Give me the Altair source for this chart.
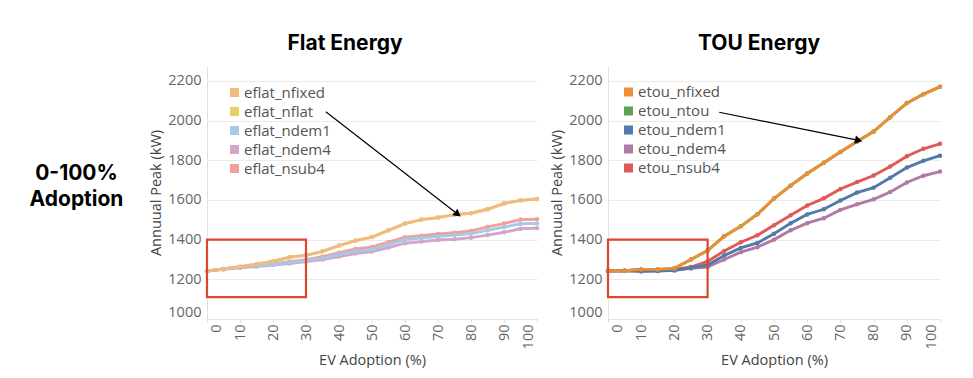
import math
import altair as alt
import pandas as pd

# ---------------- data ----------------
adoption = list(range(0, 101, 5))
x_ticks = list(range(0, 101, 10))
y_ticks = list(range(1000, 2201, 200))

flat_names = ["eflat_nfixed", "eflat_nflat", "eflat_ndem1", "eflat_ndem4", "eflat_nsub4"]
flat_colors = ["#f0bb7f", "#ecce67", "#a6c9e8", "#d2a6c8", "#f09f9b"]
eflat_nfixed = [1242, 1252, 1264, 1276, 1291, 1311, 1321, 1341, 1370, 1395, 1413,
                1447, 1481, 1501, 1511, 1526, 1533, 1553, 1582, 1598, 1605]
eflat_nflat = [1242, 1252, 1264, 1276, 1291, 1311, 1321, 1341, 1370, 1395, 1413,
               1447, 1481, 1501, 1511, 1526, 1533, 1553, 1582, 1598, 1605]
eflat_ndem1 = [1242, 1252, 1262, 1268, 1276, 1285, 1295, 1307, 1325, 1342, 1352,
               1375, 1400, 1408, 1417, 1423, 1430, 1447, 1463, 1480, 1481]
eflat_ndem4 = [1242, 1250, 1258, 1264, 1272, 1280, 1290, 1300, 1315, 1330, 1340,
               1360, 1382, 1390, 1398, 1402, 1410, 1423, 1437, 1455, 1458]
eflat_nsub4 = [1242, 1252, 1262, 1269, 1277, 1289, 1299, 1314, 1334, 1353, 1363,
               1387, 1412, 1420, 1429, 1435, 1444, 1464, 1481, 1501, 1503]

tou_names = ["etou_nfixed", "etou_ntou", "etou_ndem1", "etou_ndem4", "etou_nsub4"]
tou_colors = ["#ec9035", "#5ea252", "#5279a8", "#b07ba3", "#df5958"]
etou_nfixed = [1243, 1243, 1250, 1250, 1255, 1300, 1345, 1417, 1467, 1528, 1607,
               1672, 1733, 1787, 1842, 1895, 1945, 2017, 2088, 2133, 2170]
etou_ntou = [1243, 1243, 1250, 1250, 1255, 1300, 1345, 1417, 1467, 1528, 1607,
             1672, 1733, 1787, 1842, 1895, 1945, 2017, 2088, 2133, 2170]
etou_ndem1 = [1243, 1243, 1240, 1242, 1245, 1258, 1272, 1320, 1358, 1383, 1430,
              1483, 1527, 1553, 1597, 1637, 1662, 1712, 1763, 1797, 1823]
etou_ndem4 = [1243, 1243, 1242, 1243, 1245, 1255, 1262, 1300, 1337, 1362, 1400,
              1447, 1483, 1508, 1550, 1578, 1603, 1640, 1688, 1722, 1743]
etou_nsub4 = [1243, 1243, 1248, 1248, 1250, 1262, 1290, 1343, 1387, 1422, 1473,
              1523, 1572, 1608, 1655, 1690, 1723, 1768, 1820, 1858, 1883]

# annotations (data coordinates)
flat_arrow = [36, 2044, 76, 1528]      # x1, y1, x2, y2
tou_arrow = [33.5, 2042, 75.5, 1900]
box_x = [0, 30]
box_y = [1110, 1400]
row_label = ["0-100%", "Adoption"]

# ---------------- layout constants ----------------
Y_DOMAIN = [1000, 2275]
H = 253
W_LEFT = 330
W_RIGHT = 332
FONT = "Open Sans"
TITLE_FONT = "Inter"
# solid square legend symbol drawn with strokes (line-mark legends are stroke only)
SQUARE = "M-1,-1H1V1H-1Z M-1,-0.476H1 M-1,0H1 M-1,0.476H1"


def panel(title, names, colors, series, width, arrow, title_dx, legend_x, legend_y, extra=None):
    order = [1, 3, 4, 2, 0]  # drawing order (bottom to top)
    rows = []
    for i in order:
        for a, v in zip(adoption, series[i]):
            rows.append({"adoption": a, "peak": v, "series": names[i]})
    df = pd.DataFrame(rows)

    xs = alt.Scale(domain=[0, 100], nice=False, zero=False)
    ys = alt.Scale(domain=Y_DOMAIN, nice=False, zero=False)

    x_axis = alt.Axis(
        values=x_ticks, labelAngle=270, title="EV Adoption (%)", grid=False,
        domain=True, ticks=True, tickSize=3, labelPadding=2, titlePadding=5,
        format="d", labelOverlap=False, labelFlush=False,
        labelOffset={"condition": [{"test": "datum.value === 0", "value": 9},
                                   {"test": "datum.value === 100", "value": -9}],
                     "value": 0},
    )
    y_axis = alt.Axis(values=y_ticks, title="Annuual Peak (kW)", grid=True, domain=True,
                      ticks=False, labelPadding=6, titlePadding=4, format="d",
                      labelOverlap=False, labelFlush=True)

    lines = alt.Chart(df).mark_line(
        strokeWidth=2.9,
        point=alt.OverlayMarkDef(size=20, filled=True, opacity=1),
    ).encode(
        x=alt.X("adoption:Q", scale=xs, axis=x_axis),
        y=alt.Y("peak:Q", scale=ys, axis=y_axis),
        color=alt.Color(
            "series:N",
            scale=alt.Scale(domain=names, range=colors),
            legend=alt.Legend(
                title=None, orient="none", legendX=legend_x, legendY=legend_y,
                symbolType=SQUARE, symbolSize=49, symbolStrokeWidth=2,
                symbolOpacity=1, labelFont=FONT, labelFontSize=15, labelColor="#555555",
                rowPadding=3, labelOffset=2, padding=0,
            ),
        ),
    )

    adf = pd.DataFrame({"x": [arrow[0]], "y": [arrow[1]], "x2": [arrow[2]], "y2": [arrow[3]]})
    dx_pix = (arrow[2] - arrow[0]) * width / 100.0
    dy_pix = (arrow[1] - arrow[3]) * H / (Y_DOMAIN[1] - Y_DOMAIN[0])
    ang = (90 + math.degrees(math.atan2(dy_pix, dx_pix))) % 360

    rule = alt.Chart(adf).mark_rule(color="black", strokeWidth=1.2).encode(
        x=alt.X("x:Q", scale=xs, axis=x_axis), y=alt.Y("y:Q", scale=ys, axis=y_axis),
        x2="x2:Q", y2="y2:Q")
    head = alt.Chart(adf).mark_point(shape="triangle-up", filled=True, color="black",
                                     size=70, angle=ang, opacity=1).encode(
        x=alt.X("x2:Q", scale=xs, axis=x_axis), y=alt.Y("y2:Q", scale=ys, axis=y_axis))

    bdf = pd.DataFrame({"x": [box_x[0]], "x2": [box_x[1]], "y": [box_y[0]], "y2": [box_y[1]]})
    box = alt.Chart(bdf).mark_rect(fillOpacity=0, stroke="#d9472f", strokeWidth=2.2).encode(
        x=alt.X("x:Q", scale=xs, axis=x_axis), x2="x2:Q",
        y=alt.Y("y:Q", scale=ys, axis=y_axis), y2="y2:Q")

    layers = [lines, rule, head, box]
    if extra is not None:
        layers.append(extra)
    return alt.layer(*layers).properties(
        width=width, height=H,
        title=alt.TitleParams(title, font=TITLE_FONT, fontSize=21, fontWeight="bold",
                              color="black", anchor="middle", frame="group",
                              dx=title_dx, offset=12),
    )


label = alt.Chart(pd.DataFrame({"a": [0]})).mark_text(
    text=row_label, font=TITLE_FONT, fontSize=21, fontWeight="bold", color="black",
    align="center", baseline="middle", lineHeight=26,
).encode(x=alt.value(-130.5), y=alt.value(108))

left = panel("Flat Energy", flat_names, flat_colors,
             [eflat_nfixed, eflat_nflat, eflat_ndem1, eflat_ndem4, eflat_nsub4],
             W_LEFT, flat_arrow, -27, 20, 19, extra=label)
right = panel("TOU Energy", tou_names, tou_colors,
              [etou_nfixed, etou_ntou, etou_ndem1, etou_ndem4, etou_nsub4],
              W_RIGHT, tou_arrow, -15, 13, 18.5)

chart = alt.hconcat(left, right, spacing=6).resolve_scale(color="independent").properties(
    padding={"left": 21, "top": 25, "right": 0, "bottom": 0}
).configure_view(stroke=None).configure_axis(
    domainColor="#e3e3e3", gridColor="#ebebeb", tickColor="#dddddd",
    labelFont=FONT, labelFontSize=14.5, labelColor="#666666",
    titleFont=FONT, titleFontSize=14.5, titleFontWeight="normal", titleColor="#444444",
)

chart.save("out.html", embed_options={"renderer": "svg", "actions": False})
